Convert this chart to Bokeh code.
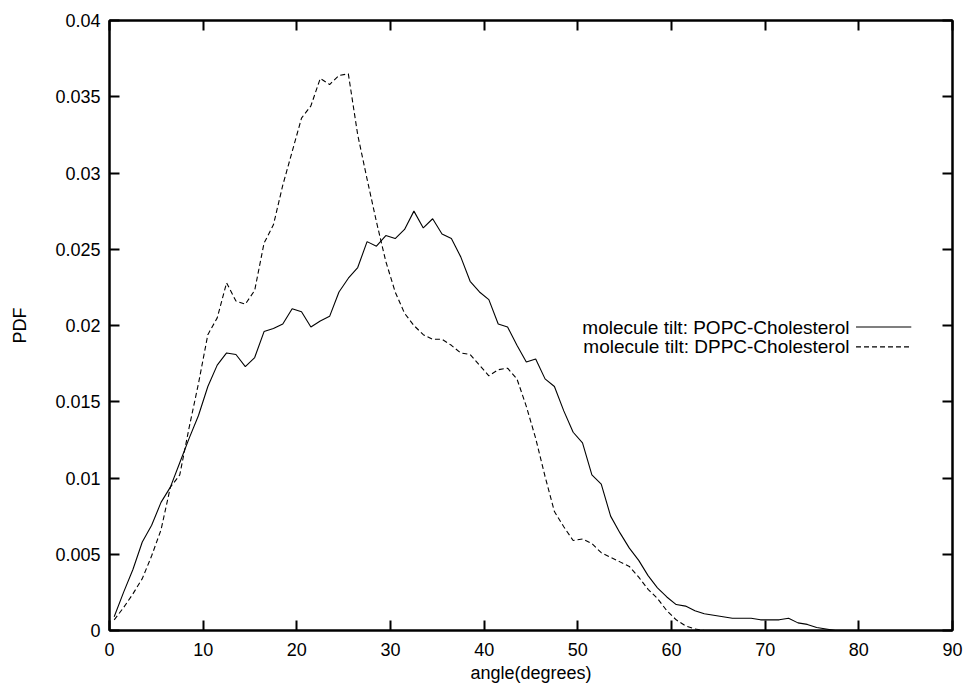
from bokeh.plotting import figure
from bokeh.models import LinearAxis, Label, FixedTicker, CustomJSTickFormatter, Range1d
from bokeh.embed import file_html
from bokeh.resources import INLINE

# ---- data ----
angle = [k + 0.5 for k in range(0, 78)]

popc_pdf = [
    0.0009, 0.0025, 0.0040, 0.0058, 0.0069, 0.0084, 0.0094, 0.0110, 0.0126, 0.0141,
    0.0160, 0.0174, 0.0182, 0.0181, 0.0173, 0.0179, 0.0196, 0.0198, 0.0201, 0.0211,
    0.0209, 0.0199, 0.0203, 0.0206, 0.0222, 0.0231, 0.0238, 0.0255, 0.0252, 0.0259,
    0.0257, 0.0263, 0.0275, 0.0264, 0.0270, 0.0260, 0.0257, 0.0245, 0.0229, 0.0222,
    0.0217, 0.0201, 0.0199, 0.0187, 0.0176, 0.0178, 0.0165, 0.0160, 0.0144, 0.0130,
    0.0123, 0.0102, 0.0096, 0.0075, 0.0064, 0.0054, 0.0046, 0.0036, 0.0028, 0.0022,
    0.0017, 0.0016, 0.0013, 0.0011, 0.0010, 0.0009, 0.0008, 0.0008, 0.0008, 0.0007,
    0.0007, 0.0007, 0.0008, 0.0005, 0.0004, 0.0002, 0.0001, 0.0000,
]

dppc_pdf = [
    0.0007, 0.0015, 0.0024, 0.0034, 0.0049, 0.0066, 0.0094, 0.0102, 0.0133, 0.0162,
    0.0194, 0.0205, 0.0228, 0.0216, 0.0214, 0.0223, 0.0254, 0.0266, 0.0292, 0.0314,
    0.0336, 0.0344, 0.0362, 0.0358, 0.0364, 0.0365, 0.0325, 0.0296, 0.0268, 0.0242,
    0.0222, 0.0208, 0.0200, 0.0194, 0.0191, 0.0191, 0.0187, 0.0182, 0.0181, 0.0174,
    0.0167, 0.0171, 0.0172, 0.0165, 0.0147, 0.0126, 0.0101, 0.0078, 0.0068, 0.0059,
    0.0060, 0.0057, 0.0051, 0.0048, 0.0045, 0.0042, 0.0035, 0.0027, 0.0021, 0.0013,
    0.0007, 0.0003, 0.0001, 0.0000, 0.0000,
]

x_ticks = [0, 10, 20, 30, 40, 50, 60, 70, 80, 90]
y_ticks = [0, 0.005, 0.01, 0.015, 0.02, 0.025, 0.03, 0.035, 0.04]
y_tick_labels = ["0", "0.005", "0.01", "0.015", "0.02", "0.025", "0.03", "0.035", "0.04"]
x_label = "angle(degrees)"
y_label = "PDF"
series_names = ["molecule tilt: POPC-Cholesterol", "molecule tilt: DPPC-Cholesterol"]

FONT = "Liberation Sans"

p = figure(
    width=964, height=690,
    frame_width=843, frame_height=610,
    min_border_left=109, min_border_right=12, min_border_top=20, min_border_bottom=60,
    x_range=Range1d(0, 90), y_range=Range1d(0, 0.04),
    output_backend="svg", toolbar_location=None,
)
p.background_fill_color = "white"
p.border_fill_color = "white"
p.grid.visible = False
p.outline_line_color = "black"
p.outline_line_width = 2

def style_axis(ax, show_labels):
    ax.axis_line_color = "black"
    ax.axis_line_width = 2
    ax.major_tick_in = 10
    ax.major_tick_out = 0
    ax.major_tick_line_width = 2
    ax.major_tick_line_color = "black"
    ax.minor_tick_line_color = None
    ax.major_label_text_font = FONT
    ax.major_label_text_color = "black"
    if show_labels:
        ax.major_label_text_font_size = "18px"
    else:
        ax.major_label_text_font_size = "1px"
        ax.major_label_standoff = 0
        ax.formatter = CustomJSTickFormatter(code="return ''")

xa = p.xaxis[0]
xa.ticker = FixedTicker(ticks=x_ticks)
style_axis(xa, True)
xa.major_label_standoff = 12
xa.axis_label = x_label
xa.axis_label_text_font = FONT
xa.axis_label_text_font_size = "18px"
xa.axis_label_text_font_style = "normal"
xa.axis_label_text_color = "black"
xa.axis_label_standoff = 4

ya = p.yaxis[0]
ya.ticker = FixedTicker(ticks=y_ticks)
ya.major_label_overrides = {t: s for t, s in zip(y_ticks, y_tick_labels)}
style_axis(ya, True)
ya.major_label_standoff = 9
ya.axis_label = y_label
ya.axis_label_text_font = FONT
ya.axis_label_text_font_size = "18px"
ya.axis_label_text_font_style = "normal"
ya.axis_label_text_color = "black"
ya.axis_label_standoff = 22

top = LinearAxis(ticker=FixedTicker(ticks=x_ticks))
style_axis(top, False)
p.add_layout(top, "above")
right = LinearAxis(ticker=FixedTicker(ticks=y_ticks))
style_axis(right, False)
p.add_layout(right, "right")

p.line(angle, popc_pdf, line_color="black", line_width=1.1)
p.line(angle[:len(dppc_pdf)], dppc_pdf, line_color="black", line_width=1.1, line_dash="5 3")

# legend (gnuplot style: text right-aligned, sample line to the right)
leg_text_x = 79.0
leg_line_x = [79.7, 85.6]
leg_y = [0.0199, 0.0186]
dashes = ["solid", "5 3"]
for name, yy, dash in zip(series_names, leg_y, dashes):
    p.add_layout(Label(x=leg_text_x, y=yy, text=name, text_align="right", text_baseline="middle",
                       text_font=FONT, text_font_size="19px", text_color="black"))
    p.line(leg_line_x, [yy, yy], line_color="black", line_width=1.1, line_dash=dash)

open("out.html", "w").write(file_html(p, INLINE))
